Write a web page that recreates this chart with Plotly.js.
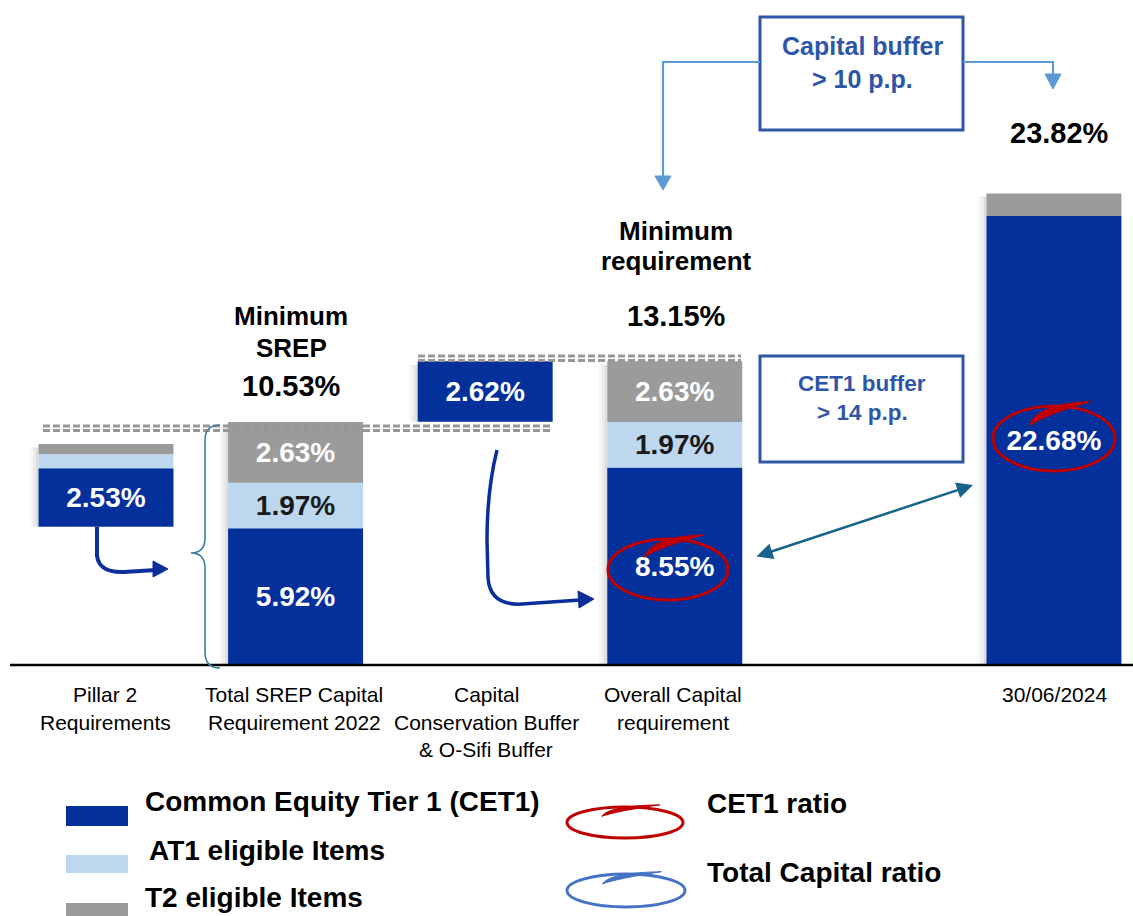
<!DOCTYPE html>
<html>
<head>
<meta charset="utf-8">
<script src="https://cdn.plot.ly/plotly-3.0.1.min.js"></script>
<style>html,body{margin:0;padding:0;background:#fff;}#chart{width:1133px;height:916px;}</style>
</head>
<body>
<div id="chart"></div>
<script>
// ---------- data ----------
const categories = ["Pillar 2<br>Requirements", "Total SREP Capital<br>Requirement 2022", "Capital<br>Conservation Buffer<br>& O-Sifi Buffer", "Overall Capital<br>requirement", "30/06/2024"];
const slot = [0, 1, 2, 3, 5];
const floorVal = [5.99, 0, 10.53, 0, 0];
const cet1 = [2.53, 5.92, 2.62, 8.55, 22.68];
const at1 = [0.60, 1.97, 0, 1.97, 0];
const t2 = [0.45, 2.63, 0, 2.63, 1.14];
const axisOf = ["y", "y", "y", "y", "y2"];
const headers = [
  {slot: 1, lines: ["Minimum", "SREP"], value: "10.53%"},
  {slot: 3, lines: ["Minimum", "requirement"], value: "13.15%"},
  {slot: 5, lines: [], value: "23.82%"}
];
const legendBars = ["Common Equity Tier 1 (CET1)", "AT1 eligible Items", "T2 eligible Items"];
const legendRings = ["CET1 ratio", "Total Capital ratio"];
const boxTexts = [["Capital buffer", "> 10 p.p."], ["CET1 buffer", "> 14 p.p."]];

// ---------- style ----------
const C_CET1 = "#03309A", C_AT1 = "#BDD7EE", C_T2 = "#9B9B9B";
const NARROW = "'Liberation Sans Narrow', 'Arial Narrow', 'Liberation Sans', Arial, sans-serif";
const ARIAL = "'Liberation Sans', Arial, sans-serif";
const W = 1133, BASEY = 665;
const X = p => p / W;
const Y = p => (BASEY - p) / BASEY;
const pth = s => s.replace(/(-?\d+\.?\d*),(-?\d+\.?\d*)/g, (m, a, b) => X(+a).toFixed(5) + "," + Y(+b).toFixed(5));
const BW = 0.712;
const MIN_LABEL = 1.5;

// ---------- traces ----------
const traces = [];
function seg(vals, bases, color, txtColor, name) {
  ["y", "y2"].forEach(ax => {
    const idx = slot.map((s, i) => i).filter(i => axisOf[i] === ax);
    traces.push({
      type: "bar", name: name, showlegend: false, yaxis: ax,
      x: idx.map(i => slot[i]), y: idx.map(i => vals[i]), base: idx.map(i => bases[i]),
      width: BW, marker: {color: color, line: {width: 0}},
      text: idx.map(i => (vals[i] >= MIN_LABEL) ? vals[i].toFixed(2) + "%" : ""),
      textposition: "inside", insidetextanchor: "middle", constraintext: "none",
      textfont: {family: ARIAL, size: 28, color: txtColor, weight: "bold"},
      hoverinfo: "skip"
    });
  });
}
const b1 = floorVal;
const b2 = floorVal.map((f, i) => f + cet1[i]);
const b3 = floorVal.map((f, i) => f + cet1[i] + at1[i]);
seg(cet1, b1, C_CET1, "#ffffff", legendBars[0]);
seg(at1, b2, C_AT1, "#1a1a1a", legendBars[1]);
seg(t2, b3, C_T2, "#ffffff", legendBars[2]);

// ---------- shapes ----------
const shapes = [];
// soft bar shadows
slot.forEach((s, i) => {
  const top = floorVal[i] + cet1[i] + at1[i] + t2[i];
  [[0.045, 0.035], [0.028, 0.045], [0.013, 0.06]].forEach(d => {
    shapes.push({type: "rect", layer: "below", xref: "x", yref: axisOf[i], x0: s - BW / 2 - d[0], x1: s - BW / 2, y0: floorVal[i], y1: top - 0.15,
      fillcolor: "rgba(0,0,0," + d[1] + ")", line: {width: 0}});
  });
});
// baseline
shapes.push({type: "line", xref: "paper", yref: "paper", x0: X(10), x1: X(1133), y0: Y(665), y1: Y(665), line: {color: "#000", width: 2.5}});
// dashed guide lines
[[43, 553, 426], [43, 553, 430.5], [418, 741, 356], [418, 741, 360.5]].forEach(d => {
  shapes.push({type: "line", xref: "paper", yref: "paper", x0: X(d[0]), x1: X(d[1]), y0: Y(d[2]), y1: Y(d[2]),
    line: {color: "#979797", width: 3, dash: "7px,3px"}});
});
// brace
shapes.push({type: "path", xref: "paper", yref: "paper", line: {color: "#3d7f9f", width: 1.6},
  path: pth("M220,425 Q205,425 205,440 L205,538 Q205,553 191,553 Q205,553 205,568 L205,652 Q205,668 220,668")});
// curved blue arrows
const ARR = "#0B2F9A";
shapes.push({type: "path", xref: "paper", yref: "paper", line: {color: ARR, width: 4},
  path: pth("M97,527 L97,550 Q95,573 124,572 L156,570")});
shapes.push({type: "path", xref: "paper", yref: "paper", fillcolor: ARR, line: {color: ARR, width: 1},
  path: pth("M168,569 L153,561 L153,577 Z")});
shapes.push({type: "path", xref: "paper", yref: "paper", line: {color: ARR, width: 3.5},
  path: pth("M497,450 Q487,490 487,540 L488,578 Q490,606 522,604 L580,600")});
shapes.push({type: "path", xref: "paper", yref: "paper", fillcolor: ARR, line: {color: ARR, width: 1},
  path: pth("M594,599 L578,591 L579,608 Z")});
// boxes
const BOX = "#2E56A6";
[[760, 963, 17, 130], [760, 963, 356, 462]].forEach(b => {
  shapes.push({type: "rect", xref: "paper", yref: "paper", x0: X(b[0]), x1: X(b[1]), y0: Y(b[2]), y1: Y(b[3]),
    fillcolor: "rgba(0,0,0,0)", line: {color: BOX, width: 3}});
});
// light blue connector arrows
const LB = "#5B9BD5";
shapes.push({type: "path", xref: "paper", yref: "paper", line: {color: LB, width: 2.2}, path: pth("M760,62 L663,62 L663,178")});
shapes.push({type: "path", xref: "paper", yref: "paper", fillcolor: LB, line: {color: LB, width: 1}, path: pth("M663,190 L655,176 L671,176 Z")});
shapes.push({type: "path", xref: "paper", yref: "paper", line: {color: LB, width: 2.2}, path: pth("M963,62 L1053,62 L1053,76")});
shapes.push({type: "path", xref: "paper", yref: "paper", fillcolor: LB, line: {color: LB, width: 1}, path: pth("M1053,89 L1045,74 L1061,74 Z")});
// rings (ellipse + swoosh)
function ring(x0, x1, y0, y1, color) {
  shapes.push({type: "circle", xref: "paper", yref: "paper", x0: X(x0), x1: X(x1), y0: Y(y0), y1: Y(y1),
    fillcolor: "rgba(0,0,0,0)", line: {color: color, width: 3}});
  const w = x1 - x0, h = y1 - y0;
  const sx = x0 + 0.30 * w, sy = y0 + 0.30 * h;
  const ex = x0 + 0.80 * w, ey = y0 - 0.07 * h;
  const c1x = x0 + 0.36 * w, c1y = y0 - 0.04 * h;
  const c2x = x0 + 0.42 * w, c2y = y0 + 0.14 * h;
  shapes.push({type: "path", xref: "paper", yref: "paper", fillcolor: color, line: {color: color, width: 1},
    path: pth(`M${sx},${sy} Q${c1x},${c1y} ${ex},${ey} Q${c2x},${c2y} ${sx},${sy} Z`)});
}
ring(608, 728, 539, 600, "#C00000");
ring(993, 1115, 406, 471, "#C00000");
ring(567, 683, 807, 838, "#C00000");
ring(567, 685, 874, 907, "#4472C4");
// legend swatches
[[806, 826, C_CET1], [855, 873, C_AT1], [903, 916, C_T2]].forEach(r => {
  shapes.push({type: "rect", xref: "paper", yref: "paper", x0: X(66), x1: X(128), y0: Y(r[0]), y1: Y(r[1]), fillcolor: r[2], line: {width: 0}});
});

// ---------- annotations ----------
const annotations = [];
function txt(x, y, text, size, family, color, xanchor) {
  annotations.push({xref: "paper", yref: "paper", x: X(x), y: Y(y), text: text, showarrow: false,
    xanchor: xanchor || "center", yanchor: "middle", font: {family: family, size: size, color: color || "#000"}});
}
// category labels
const catCenters = [105, 294, 486, 673, 1054];
categories.forEach((c, i) => {
  c.split("<br>").forEach((line, j) => txt(catCenters[i], 695 + 27 * j, line, 21, NARROW, "#000"));
});
// headers
const headerPos = {1: [291, [316, 348], 386], 3: [676, [231, 261], 316], 5: [1059, [], 133]};
headers.forEach(h => {
  const p = headerPos[h.slot];
  h.lines.forEach((l, j) => txt(p[0], p[1][j], "<b>" + l + "</b>", 26, ARIAL));
  txt(p[0], p[2], "<b>" + h.value + "</b>", 29, ARIAL);
});
// box texts
txt(862, 46, "<b>" + boxTexts[0][0] + "</b>", 25, NARROW, BOX);
txt(862, 79, "<b>" + boxTexts[0][1] + "</b>", 25, NARROW, BOX);
txt(862, 383, "<b>" + boxTexts[1][0] + "</b>", 22.5, NARROW, BOX);
txt(862, 413, "<b>" + boxTexts[1][1] + "</b>", 22.5, NARROW, BOX);
// legend text
txt(143, 802, "<b>" + legendBars[0] + "</b>", 28, NARROW, "#000", "left");
txt(147, 850, "<b>" + legendBars[1] + "</b>", 28, NARROW, "#000", "left");
txt(143, 897, "<b>" + legendBars[2] + "</b>", 28, NARROW, "#000", "left");
txt(705, 803, "<b>" + legendRings[0] + "</b>", 28, NARROW, "#000", "left");
txt(705, 873, "<b>" + legendRings[1] + "</b>", 28, NARROW, "#000", "left");
// double-headed teal arrow
annotations.push({xref: "paper", yref: "paper", x: X(973), y: Y(485), ax: 755 - 973, ay: 557 - 485, text: "",
  showarrow: true, arrowside: "end+start", arrowhead: 2, arrowsize: 1.3, arrowwidth: 2.5, arrowcolor: "#17648A", standoff: 0, startstandoff: 0});

const layout = {
  width: 1133, height: 916,
  margin: {l: 0, r: 0, t: 0, b: 251},
  paper_bgcolor: "#fff", plot_bgcolor: "#fff",
  barmode: "overlay", showlegend: false,
  xaxis: {range: [-0.559, 5.417], visible: false, fixedrange: true},
  yaxis: {range: [0, 28.79], visible: false, fixedrange: true},
  yaxis2: {range: [0, 33.59], visible: false, overlaying: "y", fixedrange: true},
  shapes: shapes, annotations: annotations
};
Plotly.newPlot("chart", traces, layout, {displayModeBar: false, staticPlot: true});
</script>
</body>
</html>
